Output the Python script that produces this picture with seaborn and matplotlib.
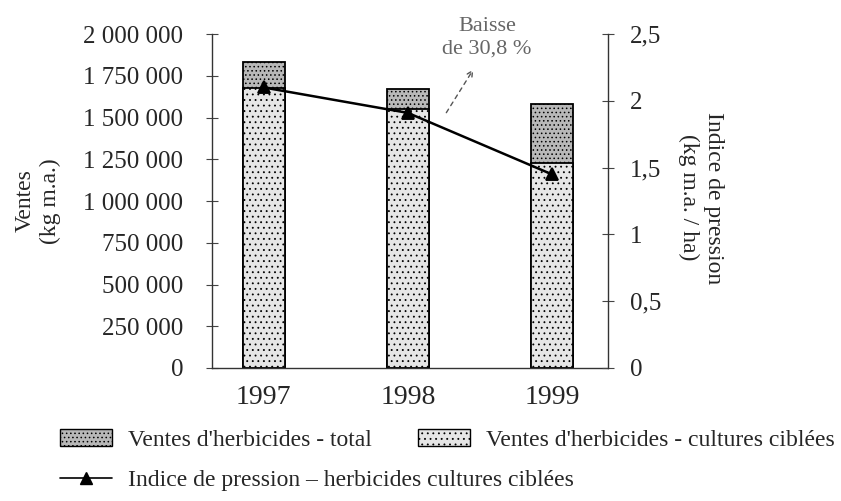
import numpy as np
import seaborn as sns
import matplotlib
matplotlib.use("Agg")
import matplotlib.pyplot as plt
from matplotlib.ticker import FuncFormatter, MultipleLocator, FixedLocator
from matplotlib.patches import Patch
from matplotlib.lines import Line2D

# data
years = ["1997", "1998", "1999"]
ventes_total = [1830000, 1670000, 1580000]
ventes_ciblees = [1675000, 1550000, 1228000]
indice_pression = [2.10, 1.91, 1.45]

sns.set_style("white")
plt.rcParams["font.family"] = ["Liberation Serif", "DejaVu Serif"]
plt.rcParams["hatch.linewidth"] = 0.6

fig = plt.figure(figsize=(8.41, 5.01), dpi=100)
ax = fig.add_axes([0.252, 0.2655, 0.471, 0.6665])

# stacked-looking bars: total drawn first, targeted crops on top of it
sns.barplot(x=years, y=ventes_total, ax=ax, color="#b8b8b8", saturation=1,
            width=0.29, edgecolor="black", linewidth=1.3, hatch="....")
sns.barplot(x=years, y=ventes_ciblees, ax=ax, color="#e6e6e6", saturation=1,
            width=0.29, edgecolor="black", linewidth=1.3, hatch="...")

ax2 = ax.twinx()
sns.pointplot(x=years, y=indice_pression, ax=ax2, color="black", markers="^",
              markersize=9, linewidth=1.8)

ax.set_xlim(-0.36, 2.39)
ax.set_ylim(0, 2000000)
ax2.set_ylim(0, 2.5)

ax.yaxis.set_major_locator(MultipleLocator(250000))
ax.yaxis.set_major_formatter(FuncFormatter(lambda v, p: f"{int(v):,}".replace(",", " ")))
ax2.yaxis.set_major_locator(MultipleLocator(0.5))
ax2.yaxis.set_major_formatter(FuncFormatter(lambda v, p: f"{v:g}".replace(".", ",")))

ax.xaxis.set_minor_locator(FixedLocator([0.5, 1.5]))
ax.tick_params(axis="x", which="major", length=0, pad=12, labelsize=20)
ax.tick_params(axis="x", which="minor", direction="inout", length=12, width=0.8, color="#444")
ax.tick_params(axis="y", direction="inout", length=9, width=0.8, color="#444",
               pad=16, labelsize=18, left=True)
ax2.tick_params(axis="y", direction="inout", length=9, width=0.8, color="#444",
                pad=11, labelsize=18, right=True)

for a in (ax, ax2):
    for s in a.spines.values():
        s.set_visible(False)
ax.spines["left"].set_visible(True)
ax.spines["bottom"].set_visible(True)
ax2.spines["right"].set_visible(True)
for s in (ax.spines["left"], ax.spines["bottom"], ax2.spines["right"]):
    s.set_linestyle((0, (1, 1)))
    s.set_color("#333")
    s.set_linewidth(1.0)

ax.set_xlabel("")
ax.set_ylabel("Ventes\n(kg m.a.)", fontsize=17, linespacing=1.25)
ax.yaxis.set_label_coords(-0.38, 0.5)
ax2.set_ylabel("Indice de pression\n(kg m.a. / ha)", fontsize=17, rotation=270,
               va="bottom", linespacing=1.25)
ax2.yaxis.set_label_coords(1.177, 0.51)

# annotation
ax.annotate("", xy=(1.465, 1802000), xytext=(1.257, 1515000),
            arrowprops=dict(arrowstyle="->", linestyle=(0, (3, 3)), color="#555", lw=1.0))
ax.text(1.55, 1976000, "Baisse\nde 30,8 %", ha="center", va="center", fontsize=16,
        color="#666", linespacing=1.25)

h_total = Patch(facecolor="#b8b8b8", edgecolor="black", hatch="....", linewidth=1.0)
h_indice = Line2D([0], [0], color="black", marker="^", markersize=8, linewidth=1.2)
h_ciblees = Patch(facecolor="#e6e6e6", edgecolor="black", hatch="...", linewidth=1.0)

leg_kw = dict(loc="upper left", frameon=False, fontsize=17, handlelength=2.2,
              handletextpad=0.7, labelspacing=0.8, borderpad=0, borderaxespad=0)
fig.legend([h_total, h_indice],
           ["Ventes d'herbicides - total",
            "Indice de pression \u2013 herbicides cultures ciblées"],
           bbox_to_anchor=(60 / 841, 1 - 429 / 501), **leg_kw)
fig.legend([h_ciblees], ["Ventes d'herbicides - cultures ciblées"],
           bbox_to_anchor=(418 / 841, 1 - 429 / 501), **leg_kw)

fig.savefig("out.png", dpi=100)
